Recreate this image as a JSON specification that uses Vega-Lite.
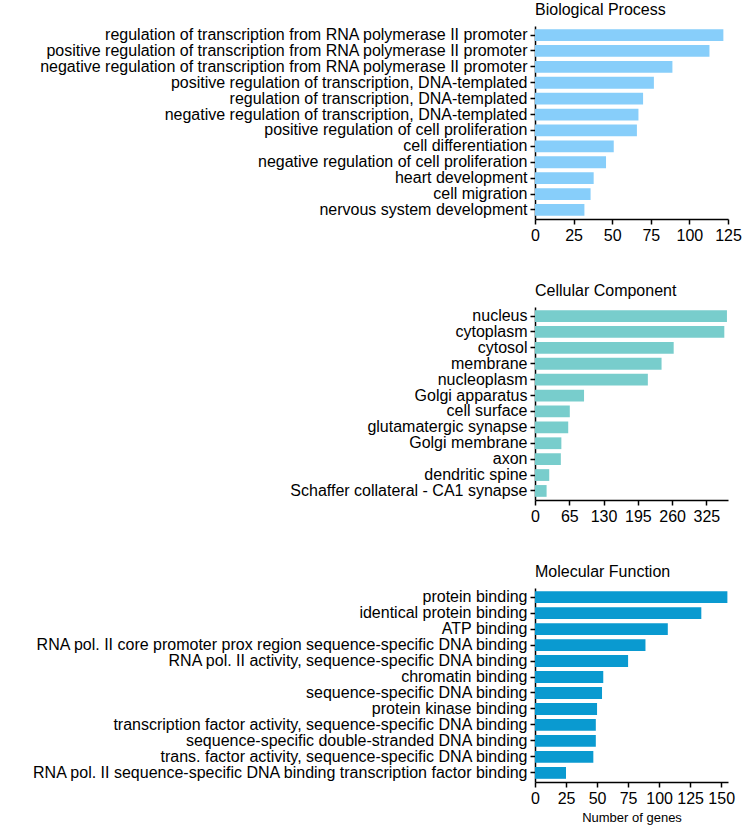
{
  "$schema": "https://vega.github.io/schema/vega-lite/v6.json",
  "description": "GO enrichment: number of genes per term",
  "padding": {"left": 30, "top": 2, "right": 0, "bottom": 5},
  "config": {
    "view": {"stroke": null},
    "font": "Liberation Sans",
    "axis": {
      "labelFont": "Liberation Sans",
      "labelFontSize": 16,
      "labelColor": "#000",
      "domainColor": "#000",
      "tickColor": "#000",
      "domainWidth": 1.5,
      "tickWidth": 1.5,
      "tickSize": 5,
      "grid": false,
      "labelPadding": 3,
      "labelOverlap": false,
      "labelFlush": false,
      "titleFont": "Liberation Sans",
      "titleFontWeight": "normal",
      "titleFontSize": 13,
      "titleColor": "#000",
      "titlePadding": 5
    },
    "axisY": {"labelFontSize": 16, "labelLimit": 600},
    "title": {"font": "Liberation Sans", "fontSize": 16, "fontWeight": "normal", "anchor": "start", "frame": "group", "color": "#000", "offset": 8},
    "concat": {"spacing": 40}
  },
  "datasets": {
    "bp": [
      {"term": "regulation of transcription from RNA polymerase II promoter", "genes": 122},
      {"term": "positive regulation of transcription from RNA polymerase II promoter", "genes": 113},
      {"term": "negative regulation of transcription from RNA polymerase II promoter", "genes": 89},
      {"term": "positive regulation of transcription, DNA-templated", "genes": 77},
      {"term": "regulation of transcription, DNA-templated", "genes": 70},
      {"term": "negative regulation of transcription, DNA-templated", "genes": 67},
      {"term": "positive regulation of cell proliferation", "genes": 66},
      {"term": "cell differentiation", "genes": 51},
      {"term": "negative regulation of cell proliferation", "genes": 46},
      {"term": "heart development", "genes": 38},
      {"term": "cell migration", "genes": 36},
      {"term": "nervous system development", "genes": 32}
    ],
    "cc": [
      {"term": "nucleus", "genes": 364},
      {"term": "cytoplasm", "genes": 359},
      {"term": "cytosol", "genes": 263},
      {"term": "membrane", "genes": 240},
      {"term": "nucleoplasm", "genes": 214},
      {"term": "Golgi apparatus", "genes": 93},
      {"term": "cell surface", "genes": 66},
      {"term": "glutamatergic synapse", "genes": 63},
      {"term": "Golgi membrane", "genes": 50},
      {"term": "axon", "genes": 49},
      {"term": "dendritic spine", "genes": 27},
      {"term": "Schaffer collateral - CA1 synapse", "genes": 22}
    ],
    "mf": [
      {"term": "protein binding", "genes": 155},
      {"term": "identical protein binding", "genes": 134},
      {"term": "ATP binding", "genes": 107},
      {"term": "RNA pol. II core promoter prox region sequence-specific DNA binding", "genes": 89},
      {"term": "RNA pol. II activity, sequence-specific DNA binding", "genes": 75},
      {"term": "chromatin binding", "genes": 55},
      {"term": "sequence-specific DNA binding", "genes": 54},
      {"term": "protein kinase binding", "genes": 50},
      {"term": "transcription factor activity, sequence-specific DNA binding", "genes": 49},
      {"term": "sequence-specific double-stranded DNA binding", "genes": 49},
      {"term": "trans. factor activity, sequence-specific DNA binding", "genes": 47},
      {"term": "RNA pol. II sequence-specific DNA binding transcription factor binding", "genes": 25}
    ]
  },
  "vconcat": [
    {
      "title": "Biological Process",
      "width": 193,
      "height": 193,
      "data": {"name": "bp"},
      "mark": {"type": "bar", "color": "#87CEFA"},
      "encoding": {
        "y": {"field": "term", "type": "nominal", "sort": null, "title": null,
              "scale": {"paddingInner": 0.26, "paddingOuter": 0.2}},
        "x": {"field": "genes", "type": "quantitative", "title": null,
              "scale": {"domain": [0, 125], "nice": false},
              "axis": {"values": [0, 25, 50, 75, 100, 125]}}
      }
    },
    {
      "title": "Cellular Component",
      "width": 193,
      "height": 193,
      "data": {"name": "cc"},
      "mark": {"type": "bar", "color": "#78CDCC"},
      "encoding": {
        "y": {"field": "term", "type": "nominal", "sort": null, "title": null,
              "scale": {"paddingInner": 0.26, "paddingOuter": 0.2}},
        "x": {"field": "genes", "type": "quantitative", "title": null,
              "scale": {"domain": [0, 366], "nice": false},
              "axis": {"values": [0, 65, 130, 195, 260, 325]}}
      }
    },
    {
      "title": "Molecular Function",
      "width": 193,
      "height": 194,
      "data": {"name": "mf"},
      "mark": {"type": "bar", "color": "#0A9AD0"},
      "encoding": {
        "y": {"field": "term", "type": "nominal", "sort": null, "title": null,
              "scale": {"paddingInner": 0.26, "paddingOuter": 0.2}},
        "x": {"field": "genes", "type": "quantitative", "title": "Number of genes",
              "scale": {"domain": [0, 155.5], "nice": false},
              "axis": {"values": [0, 25, 50, 75, 100, 125, 150]}}
      }
    }
  ]
}
